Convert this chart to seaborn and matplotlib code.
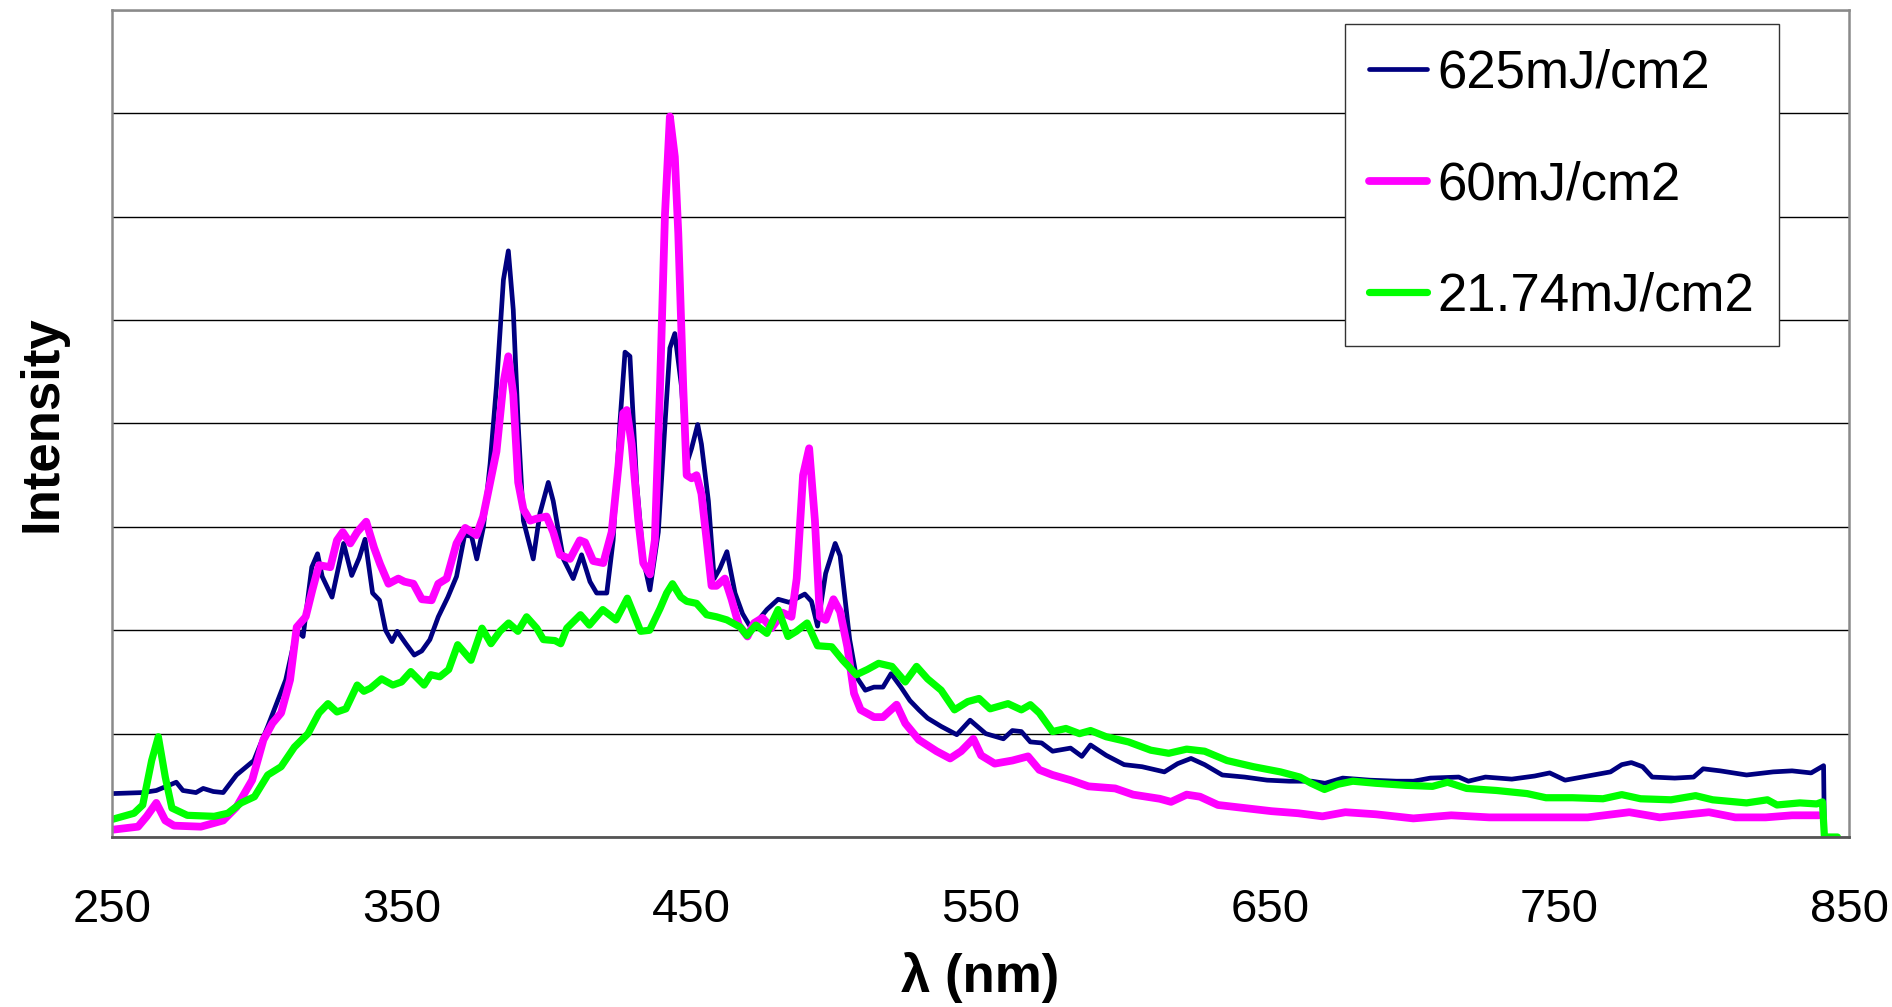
import numpy as np
import pandas as pd
import matplotlib
matplotlib.use("Agg")
import matplotlib.pyplot as plt
import seaborn as sns

# ---- data (intensity in gridline units) ----
series_names = ["625mJ/cm2", "60mJ/cm2", "21.74mJ/cm2"]
series_colors = ["#000080", "#FF00FF", "#00FF00"]

wl_625 = [250, 260.6, 265.3, 272.2, 274.5, 279, 281.5, 285, 288.4, 293, 299, 303.8, 310, 313.8, 316, 319,
          321, 322.6, 326, 330, 332.8, 335.4, 337.4, 340, 342.4, 344.5, 346.7, 348.5, 351.5, 354.4, 357,
          359.8, 362.7, 366, 369, 371.8, 374.2, 376, 378.3, 380.6, 382.8, 385.2, 386.9, 388.6, 390.3,
          392.1, 395.5, 397.8, 400.7, 402.4, 405.9, 409.3, 412.2, 415.1, 417.4, 420.9, 423.1, 425.4,
          427.2, 428.9, 431.2, 433.5, 435.8, 438.7, 441, 442.7, 444.4, 446.7, 448.5, 450.2, 452.3,
          453.6, 456, 458, 460, 462.4, 465.2, 467.8, 470.1, 472.4, 476.2, 480.1, 483.9, 489.3, 491.6,
          493.7, 496.5, 499.8, 501.5, 504.8, 507.1, 510.2, 513.2, 516.3, 519.1, 522.5, 525.6, 528.7,
          531.7, 536.4, 541.8, 546.4, 551.8, 557.9, 561, 564.1, 567.2, 571.1, 574.9, 581.1, 585, 588,
          593.4, 599.6, 605.8, 613.5, 618.1, 622.7, 627.4, 633.5, 641.2, 649, 656.6, 664.4, 669, 675.1,
          684.4, 693.7, 699.5, 705.4, 715.2, 718.5, 724.4, 733.5, 741.4, 746.6, 751.9, 759.7, 767.6,
          771.5, 774.8, 778.7, 782, 789.8, 796.3, 799.6, 805.5, 814.6, 823.8, 830.3, 836.9, 841.2, 841.5]
int_625 = [0.42, 0.43, 0.45, 0.53, 0.45, 0.43, 0.47, 0.44, 0.43, 0.60, 0.74, 1.07, 1.52, 2.0, 1.94, 2.61,
           2.74, 2.52, 2.32, 2.84, 2.53, 2.70, 2.88, 2.36, 2.29, 2.0, 1.89, 1.99, 1.87, 1.76, 1.80,
           1.91, 2.13, 2.32, 2.52, 2.92, 2.91, 2.69, 3.0, 3.61, 4.36, 5.39, 5.67, 5.10, 3.99,
           3.06, 2.69, 3.13, 3.43, 3.25, 2.69, 2.50, 2.73, 2.47, 2.36, 2.36, 2.87, 3.99,
           4.69, 4.65, 3.43, 2.69, 2.39, 2.95, 3.99, 4.73, 4.87, 4.36, 3.61, 3.76, 3.99,
           3.80, 3.25, 2.50, 2.60, 2.76, 2.36, 2.16, 2.05, 2.07, 2.20, 2.30, 2.27, 2.35, 2.28,
           2.04, 2.55, 2.84, 2.72, 1.91, 1.55, 1.42, 1.45, 1.45, 1.58, 1.45, 1.32, 1.23,
           1.15, 1.07, 0.99, 1.13, 1.00, 0.95, 1.03, 1.02, 0.92, 0.91, 0.83, 0.86, 0.78, 0.89,
           0.79, 0.70, 0.68, 0.63, 0.71, 0.76, 0.70, 0.60, 0.58, 0.55, 0.54, 0.54, 0.52, 0.57,
           0.55, 0.54, 0.54, 0.57, 0.58, 0.54, 0.58, 0.56, 0.59, 0.62, 0.55, 0.59, 0.63,
           0.70, 0.72, 0.68, 0.58, 0.57, 0.58, 0.66, 0.64, 0.60, 0.63, 0.64, 0.62, 0.69, 0.0]

wl_60 = [250, 259, 262, 265.3, 268.4, 271.4, 280.7, 288.4, 293, 298.4, 302.3, 305.4, 308.4, 311.5, 313.8,
         316.9, 319.2, 321.5, 325.4, 327.7, 329.7, 332.3, 334.7, 337.8, 340.5, 342.6, 345.5, 348.9, 351,
         354.1, 357, 360.4, 362.7, 365.6, 369, 372, 375.9, 378.2, 380.6, 382.8, 385.2, 386.9, 388.6,
         390.3, 392.1, 394.4, 396.7, 400.1, 402.4, 404.7, 408.2, 411.6, 413.4, 416.2, 419.7, 422.6,
         424.9, 426.6, 427.8, 429.5, 431.8, 433.5, 435.8, 437.5, 439.3, 441, 442.7, 444.4, 445.6, 447.3,
         448.5, 450.2, 451.9, 453.6, 455.4, 457.1, 458.8, 461.7, 464, 466.5, 469.5, 471.8, 474.7, 477.8,
         481.6, 484.7, 486.5, 488.7, 490.8, 492.8, 494.5, 496.5, 499.2, 501.5, 504, 506.3, 508.6, 513.2,
         516.3, 521, 524, 528.7, 534.8, 539.5, 543.3, 547.5, 550.2, 554.9, 561, 566.4, 570.3, 574.9,
         581.1, 587.3, 596.5, 602.7, 611.9, 615.8, 621.2, 625.8, 632, 641.2, 650.5, 659.7, 668.1, 676,
         686.5, 699.5, 712.6, 725.7, 745.3, 759.7, 774.1, 784.6, 801.6, 810.7, 821.2, 830.3, 839.5]
int_60 = [0.07, 0.10, 0.20, 0.33, 0.16, 0.11, 0.10, 0.16, 0.29, 0.55, 0.94, 1.10, 1.20, 1.52, 2.03,
          2.13, 2.39, 2.63, 2.61, 2.87, 2.95, 2.84, 2.95, 3.05, 2.80, 2.64, 2.45, 2.50, 2.47,
          2.45, 2.30, 2.29, 2.45, 2.50, 2.84, 2.99, 2.92, 3.10, 3.43, 3.73, 4.39, 4.65, 4.28,
          3.43, 3.17, 3.06, 3.08, 3.10, 2.95, 2.73, 2.69, 2.87, 2.85, 2.67, 2.65, 2.95,
          3.58, 4.10, 4.13, 3.80, 3.06, 2.65, 2.54, 2.87, 4.36, 6.02, 6.97, 6.58, 5.84, 4.36,
          3.50, 3.47, 3.50, 3.32, 2.87, 2.43, 2.43, 2.50, 2.30, 2.05, 1.94, 2.07, 2.12, 2.02,
          2.17, 2.13, 2.50, 3.50, 3.76, 3.06, 2.13, 2.10, 2.30, 2.18, 1.84, 1.39, 1.23, 1.16,
          1.16, 1.28, 1.10, 0.94, 0.83, 0.76, 0.83, 0.95, 0.79, 0.71, 0.74, 0.78, 0.65, 0.60,
          0.55, 0.49, 0.47, 0.41, 0.37, 0.34, 0.41, 0.39, 0.31, 0.28, 0.25, 0.23, 0.20, 0.24,
          0.22, 0.18, 0.21, 0.19, 0.19, 0.19, 0.24, 0.19, 0.24, 0.19, 0.19, 0.21, 0.21]

wl_2174 = [250, 257.6, 260.6, 263.7, 266, 268.4, 270.7, 276, 285.3, 290, 294.6, 299.2, 303.8, 308.4, 313,
           317.7, 321.5, 324.6, 327.7, 330.8, 334.7, 337, 339.3, 343.1, 347, 350, 353.2, 357.8, 360.1,
           363.2, 366.3, 369.4, 374, 377.8, 380.9, 384, 387, 390.2, 393.2, 396.7, 399, 403, 405, 407.1,
           411.8, 414.9, 419.5, 424.1, 428, 432.6, 435.7, 439.3, 441.6, 443.6, 446.5, 448.5, 451.9,
           455.4, 458.8, 462.4, 467, 469.3, 472.4, 476.2, 480.1, 483.5, 486.4, 490.1, 493.7, 498.6,
           502.4, 507.1, 510.9, 514.8, 519.4, 524, 527.9, 531.7, 536.4, 541, 545.6, 549.5, 553.3, 559.5,
           564.1, 567.2, 570.3, 574.9, 579.5, 584.2, 588, 593.4, 601.1, 608.8, 615, 621.2, 627.4, 635.1,
           644.3, 653.6, 660.3, 664.2, 668.8, 673.4, 678.6, 686.5, 696.9, 706.1, 711.3, 717.9, 728.3,
           738.8, 745.3, 754.5, 765, 771.5, 778, 788.5, 797, 802.9, 814.6, 821.8, 825.1, 833, 838.8,
           840.8, 841.5, 846]
int_2174 = [0.17, 0.23, 0.31, 0.74, 0.97, 0.58, 0.28, 0.21, 0.20, 0.23, 0.33, 0.39, 0.60, 0.68, 0.87,
            1.0, 1.20, 1.29, 1.21, 1.24, 1.47, 1.41, 1.44, 1.53, 1.47, 1.50, 1.60, 1.47, 1.57,
            1.55, 1.62, 1.86, 1.71, 2.02, 1.87, 1.99, 2.07, 1.99, 2.13, 2.02, 1.91, 1.90, 1.87, 2.02,
            2.15, 2.05, 2.20, 2.10, 2.31, 1.99, 2.0, 2.21, 2.36, 2.45, 2.32, 2.28, 2.26,
            2.15, 2.13, 2.10, 2.03, 1.95, 2.05, 1.97, 2.20, 1.94, 1.99, 2.07, 1.85, 1.84,
            1.71, 1.57, 1.62, 1.68, 1.65, 1.50, 1.65, 1.53, 1.42, 1.23, 1.31, 1.34, 1.24, 1.29,
            1.23, 1.28, 1.20, 1.02, 1.05, 1.00, 1.03, 0.97, 0.92, 0.84, 0.81, 0.85, 0.83, 0.74,
            0.68, 0.63, 0.58, 0.52, 0.46, 0.51, 0.54, 0.52, 0.50, 0.49, 0.53, 0.47, 0.45,
            0.42, 0.38, 0.38, 0.37, 0.41, 0.37, 0.36, 0.40, 0.36, 0.33, 0.36, 0.31, 0.33, 0.32,
            0.34, 0.0, 0.0]

x_major_ticks = [250, 350, 450, 550, 650, 750, 850]
x_label = "λ (nm)"
y_label = "Intensity"

# ---- style ----
sns.set_style("white")
plt.rcParams["font.family"] = ["Liberation Sans", "DejaVu Sans"]
plt.rcParams["text.color"] = "black"
plt.rcParams["axes.labelcolor"] = "black"

fig = plt.figure(figsize=(18.92, 10.07), dpi=100)
ax = fig.add_axes([0.0592, 0.1688, 0.9181, 0.8213])

widths = [3.4, 5.6, 5.2]
for wl, val, name, col, lw in zip([wl_625, wl_60, wl_2174], [int_625, int_60, int_2174],
                                   series_names, series_colors, widths):
    df = pd.DataFrame({"wl": wl, "I": val})
    sns.lineplot(data=df, x="wl", y="I", ax=ax, color=col, lw=lw, label=name,
                 estimator=None, sort=False)

ax.set_xlim(250, 850)
ax.set_ylim(0, 8)

ax.set_xticks(x_major_ticks)
ax.set_xticks(np.arange(250, 851, 25), minor=True)
ax.tick_params(axis="x", which="major", length=11.5, width=1.0, color="#404040",
               direction="out", labelsize=34, pad=25, labelcolor="black")
ax.tick_params(axis="x", which="minor", length=8, width=1.0, color="#404040", direction="out")
ax.set_yticks(range(0, 9))
ax.tick_params(axis="y", length=0, labelleft=False)
ax.yaxis.grid(True, color="black", lw=1.0)
ax.xaxis.grid(False)
ax.set_axisbelow(True)

for side in ["left", "top", "right"]:
    ax.spines[side].set_color("#8a8a8a")
    ax.spines[side].set_linewidth(1.8)
ax.spines["bottom"].set_color("#555555")
ax.spines["bottom"].set_linewidth(2.0)

ax.set_xlabel(x_label, fontsize=38, fontweight="bold", color="black")
ax.set_ylabel(y_label, fontsize=38, fontweight="bold", color="black")
ax.xaxis.set_label_coords(0.5, -0.1693)
ax.xaxis.label.set_va("center")
ax.yaxis.set_label_coords(-0.0403, 0.5)
ax.yaxis.label.set_va("center")

leg = ax.legend(loc="upper left", bbox_to_anchor=(0.7098, 0.983), fontsize=38,
                frameon=True, fancybox=False, framealpha=1, edgecolor="#333333",
                borderpad=0.46, labelspacing=1.17, handlelength=1.1, handletextpad=0.2,
                borderaxespad=0)
leg.get_frame().set_linewidth(1.0)
for t in leg.get_texts():
    t.set_color("black")

fig.savefig("out.png", dpi=100)
